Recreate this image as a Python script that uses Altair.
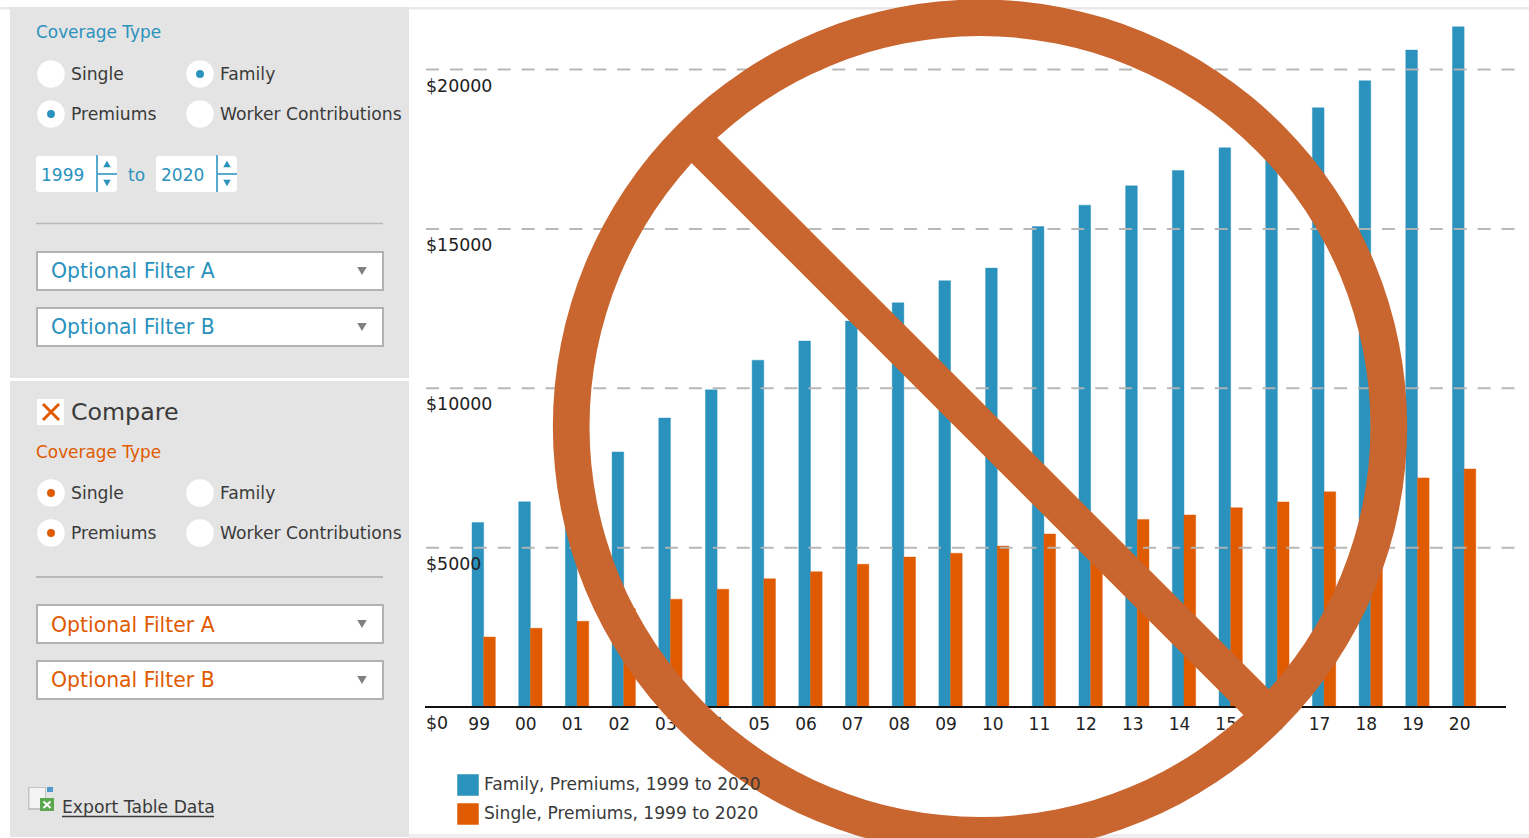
import altair as alt
import pandas as pd

# Annual premium figures
year_labels = ["99", "00", "01", "02", "03", "04", "05", "06", "07", "08", "09",
               "10", "11", "12", "13", "14", "15", "16", "17", "18", "19", "20"]
family_premiums = [5791, 6438, 7061, 8003, 9068, 9950, 10880, 11480, 12106, 12680, 13375,
                   13770, 15073, 15745, 16351, 16834, 17545, 18142, 18800, 19650, 20610, 21342]
single_premiums = [2196, 2471, 2689, 3083, 3383, 3695, 4024, 4242, 4479, 4704, 4824,
                   5049, 5429, 5615, 5884, 6025, 6251, 6435, 6750, 6896, 7188, 7470]
series_names = ["Family, Premiums, 1999 to 2020", "Single, Premiums, 1999 to 2020"]
y_ticks = [0, 5000, 10000, 15000, 20000]
grid_ticks = [5000, 10000, 15000, 20000]

BLUE = "#2A92BD"
ORANGE = "#E05A00"
INK = "#3A3A3A"
PANEL = "#E4E4E4"
RING = "#C9652E"
FONT = "DejaVu Sans"

bars = pd.DataFrame(
    [{"year": y, "series": series_names[0], "premium": v} for y, v in zip(year_labels, family_premiums)]
    + [{"year": y, "series": series_names[1], "premium": v} for y, v in zip(year_labels, single_premiums)]
)

x_scale = alt.Scale(domain=year_labels, range=[472, 1475.8], paddingInner=0.5, paddingOuter=0)
y_scale = alt.Scale(domain=[0, 20000], range=[707, 69.5], nice=False, zero=True)
series_colors = alt.Scale(domain=series_names, range=[BLUE, ORANGE])


def box_layer(rows, **mark):
    return alt.Chart(pd.DataFrame(rows, columns=["x", "x2", "y", "y2", "fill"])).mark_rect(**mark).encode(
        x=alt.X("x:Q", scale=None, axis=None),
        x2="x2:Q",
        y=alt.Y("y:Q", scale=None, axis=None),
        y2="y2:Q",
        color=alt.Color("fill:N", scale=None),
    )


def line_layer(rows, **mark):
    return alt.Chart(pd.DataFrame(rows, columns=["x", "x2", "y", "y2", "stroke"])).mark_rule(**mark).encode(
        x=alt.X("x:Q", scale=None, axis=None),
        x2="x2:Q",
        y=alt.Y("y:Q", scale=None, axis=None),
        y2="y2:Q",
        color=alt.Color("stroke:N", scale=None),
    )


def point_layer(rows, shape, size):
    return alt.Chart(pd.DataFrame(rows, columns=["x", "y", "fill"])).mark_point(
        shape=shape, size=size, filled=True, opacity=1, strokeWidth=0
    ).encode(
        x=alt.X("x:Q", scale=None, axis=None),
        y=alt.Y("y:Q", scale=None, axis=None),
        color=alt.Color("fill:N", scale=None),
    )


# Side panels and page rules
frame = box_layer([
    (0, 1529, 7, 9.5, "#E9E9E9"),
    (409, 1529, 834, 838, "#EEEEEE"),
    (10, 409, 7, 378, PANEL),
    (10, 409, 381, 837, PANEL),
])

spinners = box_layer([
    (36, 117, 156, 192, "#FFFFFF"),
    (156, 237, 156, 192, "#FFFFFF"),
], cornerRadius=3)

dropdowns = box_layer([
    (37, 383, 252, 290, "#FFFFFF"),
    (37, 383, 308, 346, "#FFFFFF"),
    (37, 383, 605, 643, "#FFFFFF"),
    (37, 383, 661, 699, "#FFFFFF"),
], stroke="#B2B2B2", strokeWidth=2)

check_box = box_layer([(37, 64, 399, 425, "#FFFFFF")])

separators = line_layer([
    (36, 383, 223.5, 223.5, "#B8B8B8"),
    (36, 383, 577, 577, "#ABABAB"),
    (62, 214, 816.5, 816.5, "#3A3A3A"),
], strokeWidth=1.6)

spinner_lines = line_layer([
    (97, 97, 155, 192, "#5AA9CE"),
    (217, 217, 155, 192, "#5AA9CE"),
    (97, 117, 174, 174, "#5AA9CE"),
    (217, 237, 174, 174, "#5AA9CE"),
], strokeWidth=2)

check_mark = line_layer([
    (43, 59, 404, 420, ORANGE),
    (43, 59, 420, 404, ORANGE),
], strokeWidth=3)

radios = point_layer([
    (51, 74, "#FFFFFF"), (200, 74, "#FFFFFF"), (51, 114, "#FFFFFF"), (200, 114, "#FFFFFF"),
    (51, 493, "#FFFFFF"), (200, 493, "#FFFFFF"), (51, 533, "#FFFFFF"), (200, 533, "#FFFFFF"),
], "circle", 760)

radio_dots = point_layer([
    (200, 74, BLUE), (51, 114, BLUE), (51, 493, ORANGE), (51, 533, ORANGE),
], "circle", 62)

up_arrows = point_layer([(107, 164, BLUE), (227, 164, BLUE)], "triangle-up", 56)
down_arrows = point_layer([(107, 183, BLUE), (227, 183, BLUE)], "triangle-down", 56)
drop_arrows = point_layer([
    (362, 271, "#808080"), (362, 327, "#808080"), (362, 624, "#808080"), (362, 680, "#808080"),
], "triangle-down", 90)

# Export icon
export_icon = box_layer([
    (28, 46, 787, 810, "#C4C4C4"),
    (29.5, 45, 788, 808, "#F4F4F4"),
    (40, 54, 798, 811, "#5BA84F"),
    (47, 53, 787, 792, "#4F9BCB"),
])
export_cross = line_layer([
    (43.5, 50.5, 801.5, 808, "#FFFFFF"),
    (43.5, 50.5, 808, 801.5, "#FFFFFF"),
], strokeWidth=2)

# Control labels
control_text = pd.DataFrame([
    (36, 33, "Coverage Type", 16.9, BLUE),
    (71, 75, "Single", 17.2, INK),
    (220, 75, "Family", 17.2, INK),
    (71, 115, "Premiums", 17.2, INK),
    (220, 115, "Worker Contributions", 17.2, INK),
    (41, 176, "1999", 17, BLUE),
    (161, 176, "2020", 17, BLUE),
    (128, 176, "to", 17, BLUE),
    (51, 272, "Optional Filter A", 20.4, BLUE),
    (51, 328, "Optional Filter B", 20.4, BLUE),
    (71, 413, "Compare", 23.7, INK),
    (36, 453, "Coverage Type", 16.9, ORANGE),
    (71, 494, "Single", 17.2, INK),
    (220, 494, "Family", 17.2, INK),
    (71, 534, "Premiums", 17.2, INK),
    (220, 534, "Worker Contributions", 17.2, INK),
    (51, 626, "Optional Filter A", 20.4, ORANGE),
    (51, 681, "Optional Filter B", 20.4, ORANGE),
    (62, 808, "Export Table Data", 17.2, INK),
], columns=["x", "y", "label", "size", "ink"])

labels = alt.Chart(control_text).mark_text(align="left", baseline="middle", font=FONT).encode(
    x=alt.X("x:Q", scale=None, axis=None),
    y=alt.Y("y:Q", scale=None, axis=None),
    text="label:N",
    size=alt.Size("size:Q", scale=None),
    color=alt.Color("ink:N", scale=None),
)

# Grouped premium bars, with year and dollar axes and the series legend
bar_layer = alt.Chart(bars).mark_bar(strokeWidth=1, strokeOpacity=0.4).encode(
    x=alt.X(
        "year:N", sort=year_labels, scale=x_scale, title=None,
        axis=alt.Axis(
            offset=-131, labelAngle=0, ticks=False, domain=False, grid=False,
            labelFont=FONT, labelFontSize=17, labelColor="#222222",
            labelPadding=9, labelOffset=-4.5, labelOverlap=False, labelBaseline="top", zindex=0,
        ),
    ),
    xOffset=alt.XOffset("series:N", scale=alt.Scale(domain=series_names)),
    y=alt.Y(
        "premium:Q", scale=y_scale, title=None,
        axis=alt.Axis(
            values=y_ticks, orient="left", offset=-425.5, ticks=False, domain=False, grid=False,
            labelAlign="left", labelPadding=0, labelOffset=16.5, labelBaseline="middle",
            labelExpr="'$' + datum.value", labelFont=FONT, labelFontSize=17.4, labelColor="#222222",
            labelOverlap=False, labelFlush=False, zindex=1,
        ),
    ),
    color=alt.Color(
        "series:N",
        scale=series_colors,
        legend=alt.Legend(
            orient="none", legendX=457, legendY=774, title=None, symbolType="square",
            symbolSize=462, symbolStrokeWidth=0, symbolOpacity=1, labelFont=FONT, labelFontSize=17.1,
            labelColor=INK, rowPadding=7, labelOffset=5, labelLimit=400, padding=0, zindex=0,
        ),
    ),
    stroke=alt.Stroke("series:N", scale=series_colors, legend=None),
)

grid = alt.Chart(pd.DataFrame({"tick": grid_ticks})).mark_rule(
    color="#B4B4B4", strokeWidth=2, strokeDash=[13, 10.9], opacity=0.95
).encode(
    x=alt.value(426), x2=alt.value(1515),
    y=alt.Y("tick:Q", scale=y_scale, title=None),
)

baseline = alt.Chart(pd.DataFrame({"tick": [0]})).mark_rule(color="#111111", strokeWidth=2).encode(
    x=alt.value(425), x2=alt.value(1506),
    y=alt.Y("tick:Q", scale=y_scale, title=None),
)

# Prohibition sign across the plot
sign_bar = alt.Chart(pd.DataFrame({"x": [680], "x2": [1280], "y": [126], "y2": [726]})).mark_rule(
    color=RING, strokeWidth=36
).encode(
    x=alt.X("x:Q", scale=None, axis=None), x2="x2:Q",
    y=alt.Y("y:Q", scale=None, axis=None), y2="y2:Q",
)
sign_ring = alt.Chart(pd.DataFrame({"n": [0]})).mark_arc(
    color=RING, radius=427, radius2=390.5, theta=0, theta2=6.2832
).encode(x=alt.value(980), y=alt.value(426.5))

chart = alt.layer(
    frame, spinners, dropdowns, check_box, separators, spinner_lines, check_mark, radios, radio_dots,
    up_arrows, down_arrows, drop_arrows, export_icon, export_cross, labels,
    bar_layer, grid, baseline, sign_bar, sign_ring,
).properties(
    width=1529, height=838, padding=0, autosize=alt.AutoSizeParams(type="none"), background="#FFFFFF",
).configure_view(strokeWidth=0)

chart.save("out.html", embed_options={"renderer": "svg", "actions": False})
